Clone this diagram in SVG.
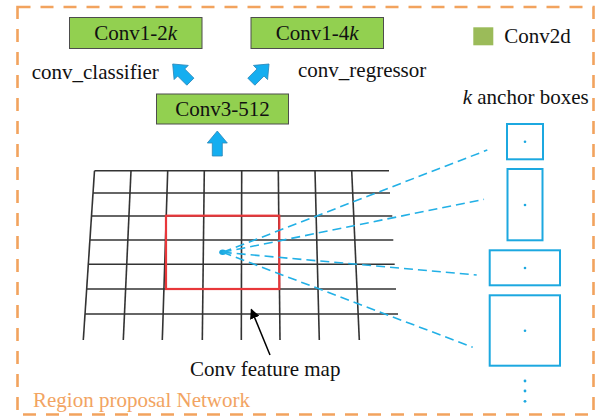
<svg xmlns="http://www.w3.org/2000/svg" width="602" height="416" viewBox="0 0 602 416">
<defs>
<style>
.t{font-family:"Liberation Serif","Times New Roman",serif;font-size:21px;fill:#111}
.box{fill:#92d050;stroke:#4d4d4d;stroke-width:1}
.grid line{stroke:#333;stroke-width:1.6}
.anc{fill:none;stroke:#1ca8e0;stroke-width:2}
.dot{fill:#1ca8e0}
.dash{stroke:#22b0e6;stroke-width:1.6;stroke-dasharray:9 5;fill:none}
.barrow{fill:#14aef0;stroke:#2a86b8;stroke-width:0.8}
</style>
<polygon id="ar" points="0,0 10,12 5,12 5,25 -5,25 -5,12 -10,12"/>
<marker id="blk" viewBox="0 0 10 10" refX="9" refY="5" markerWidth="10" markerHeight="10" markerUnits="userSpaceOnUse" orient="auto">
<path d="M0,0 L10,5 L0,10 Z" fill="#000"/>
</marker>
</defs>
<rect width="602" height="416" fill="#fff"/>
<g id="border">
<rect x="17.5" y="7" width="576" height="407.5" fill="none" stroke="#f2a35e" stroke-width="2.6" stroke-dasharray="13 10"/>
<text x="33" y="406.5" class="t" style="fill:#f2a462">Region proposal Network</text>
</g>
<g id="conv1-2k">
<rect class="box" x="69.5" y="17.5" width="132.5" height="31"/>
<text class="t" x="135.7" y="39.5" text-anchor="middle">Conv1-2<tspan font-style="italic">k</tspan></text>
</g>
<g id="conv1-4k">
<rect class="box" x="251" y="17.5" width="132.5" height="31"/>
<text class="t" x="317.2" y="39.5" text-anchor="middle">Conv1-4<tspan font-style="italic">k</tspan></text>
</g>
<g id="conv3-512">
<rect class="box" x="156.5" y="94" width="132" height="30"/>
<text class="t" x="222.5" y="115.5" text-anchor="middle">Conv3-512</text>
</g>
<g id="legend">
<rect x="473.3" y="27.3" width="20" height="18" fill="#9bbb59"/>
<text class="t" x="504.3" y="43.3">Conv2d</text>
</g>
<text class="t" x="31.7" y="79">conv_classifier</text>
<text class="t" x="298" y="77">conv_regressor</text>
<text class="t" x="462.7" y="104.3"><tspan font-style="italic">k</tspan> anchor boxes</text>
<g id="feature-map" class="grid">
<line x1="94.5" y1="170.7" x2="389" y2="170.7"/>
<line x1="93" y1="193" x2="390" y2="193"/>
<line x1="91.5" y1="216" x2="392.3" y2="216"/>
<line x1="89.9" y1="240" x2="393.3" y2="240"/>
<line x1="88.3" y1="264.3" x2="394.7" y2="264.3"/>
<line x1="86.7" y1="289" x2="396" y2="289"/>
<line x1="85" y1="314" x2="398" y2="314"/>
<line x1="94.5" y1="170.7" x2="83.3" y2="340"/>
<line x1="131" y1="170.7" x2="123.3" y2="340"/>
<line x1="167.7" y1="170.7" x2="162.3" y2="340"/>
<line x1="204.3" y1="170.7" x2="202.3" y2="340"/>
<line x1="241.7" y1="170.7" x2="241.3" y2="340"/>
<line x1="278.3" y1="170.7" x2="280" y2="340"/>
<line x1="315" y1="170.7" x2="319.3" y2="340"/>
<line x1="351.7" y1="170.7" x2="359.3" y2="340"/>
</g>
<g id="window">
<rect x="166" y="215.7" width="113.3" height="73.3" fill="none" stroke="#e8373a" stroke-width="2.2"/>
<ellipse cx="222.7" cy="252.3" rx="3.5" ry="2.7" class="dot"/>
</g>
<text class="t" x="190" y="376">Conv feature map</text>
<g id="anchors">
<rect class="anc" x="507" y="124" width="36" height="35.3"/>
<circle class="dot" cx="525" cy="141.7" r="1.3"/>
<rect class="anc" x="507.5" y="169" width="35" height="71.3"/>
<circle class="dot" cx="525" cy="205" r="1.3"/>
<rect class="anc" x="489.7" y="250.3" width="70.3" height="35"/>
<circle class="dot" cx="525" cy="268" r="1.3"/>
<rect class="anc" x="489.7" y="295.3" width="70.3" height="70.4"/>
<circle class="dot" cx="525" cy="330.7" r="1.3"/>
<circle class="dot" cx="525" cy="381" r="1.4"/>
<circle class="dot" cx="525" cy="391" r="1.4"/>
<circle class="dot" cx="525" cy="401.3" r="1.4"/>
</g>
<g id="connectors">
<use href="#ar" class="barrow" transform="translate(217.3,131)"/>
<use href="#ar" class="barrow" transform="translate(172.7,64) rotate(-45)"/>
<use href="#ar" class="barrow" transform="translate(269,64) rotate(45)"/>
<line class="dash" x1="222.7" y1="252.3" x2="487.3" y2="150"/>
<line class="dash" x1="222.7" y1="252.3" x2="484" y2="199.3"/>
<line class="dash" x1="222.7" y1="252.3" x2="476.7" y2="275"/>
<line class="dash" x1="222.7" y1="252.3" x2="472.7" y2="347.3"/>
<line x1="270" y1="355" x2="251.3" y2="309.5" stroke="#000" stroke-width="1.5" marker-end="url(#blk)"/>
</g>
</svg>
